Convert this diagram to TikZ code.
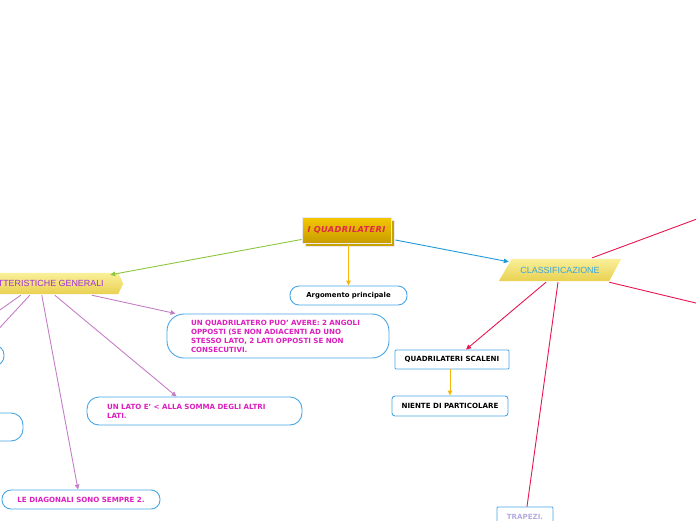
\documentclass[tikz,border=0pt]{standalone}
\usepackage{fontspec}
\setmainfont{DejaVu Sans}
\newfontfamily\arialf{Liberation Sans}
\usetikzlibrary{arrows.meta,backgrounds,shadows}
\definecolor{goldtop}{HTML}{F4C800}
\definecolor{goldbot}{HTML}{C89C00}
\definecolor{goldsh}{HTML}{C8A400}
\definecolor{framec}{HTML}{ECE8F2}
\definecolor{titlered}{HTML}{E0284A}
\definecolor{ylwtop}{HTML}{FAF09A}
\definecolor{ylwbot}{HTML}{E8D050}
\definecolor{cgtext}{HTML}{A030E0}
\definecolor{cltext}{HTML}{38A6DE}
\definecolor{boxblue}{HTML}{48A6E6}
\definecolor{magtext}{HTML}{DD1FBF}
\definecolor{lgreen}{HTML}{8CC63F}
\definecolor{lorange}{HTML}{F5B50A}
\definecolor{lblue}{HTML}{1E9AD6}
\definecolor{lpurple}{HTML}{C47EC8}
\definecolor{lcrimson}{HTML}{E8154F}
\definecolor{trtext}{HTML}{B4AEE0}
\begin{document}
\begin{tikzpicture}[x=1pt,y=-1pt,
  tip/.style={-{Triangle[length=5pt,width=4.5pt]}},
  conn/.style={line width=0.9pt},
  title/.style={minimum width=89pt, minimum height=26pt, inner sep=0pt,
    top color=goldtop, bottom color=goldbot, draw=framec, line width=0.9pt,
    font=\bfseries\itshape\fontsize{8.2}{9}\addfontfeatures{LetterSpace=5}, text=titlered,
    drop shadow={shadow xshift=3pt, shadow yshift=-3pt, fill=goldsh, draw=framec, opacity=1}},
  ylabel/.style={inner sep=0pt, font=\arialf\fontsize{8.9}{10}\selectfont},
  bubble/.style={draw=boxblue, line width=0.9pt, fill=white, inner ysep=0pt,
    font=\bfseries\fontsize{7.1}{9}\selectfont, text=magtext},
  blackbox/.style={draw=boxblue, line width=0.9pt, fill=white, inner sep=0pt,
    font=\bfseries\fontsize{7.1}{9}\selectfont, text=black}
]
\useasboundingbox (0,0) rectangle (696,520);
\clip (0,0) rectangle (696,520);

% central topic
\node[title] (qc) at (346.5,230) {I QUADRILATERI};

% main branches
\node[ylabel, text=cgtext, minimum width=168.5pt, minimum height=21pt] (cg) at (38.75,283.5) {CARATTERISTICHE GENERALI};
\node[ylabel, text=cltext, minimum width=122pt, minimum height=22pt] (cl) at (560,270) {CLASSIFICAZIONE};
\begin{scope}[on background layer]
  \shade[top color=ylwtop, bottom color=ylwbot]
    (cg.north west) -- ([xshift=-5pt]cg.north east) -- (cg.east)
    -- ([xshift=-5pt]cg.south east) -- (cg.south west) -- cycle;
  \shade[top color=ylwtop, bottom color=ylwbot]
    ([xshift=13pt]cl.north west) -- (cl.north east)
    -- ([xshift=-12pt]cl.south east) -- (cl.south west) -- cycle;
\end{scope}

\node[blackbox, rounded corners=9pt, minimum width=117pt, minimum height=19pt] (arg) at (348.5,295.5) {\fontsize{6.9}{9}\selectfont Argomento principale};

% children of caratteristiche generali
\node[bubble, rounded corners=17pt, align=left, text width=174pt, inner xsep=24pt, minimum height=44pt] (b1) at (278,336)
  {UN QUADRILATERO PUO' AVERE: 2 ANGOLI\\OPPOSTI (SE NON ADIACENTI AD UNO\\STESSO LATO, 2 LATI OPPOSTI SE NON\\CONSECUTIVI.};
\node[bubble, rounded corners=12pt, align=left, text width=175pt, inner xsep=20pt, minimum height=28pt] (b2) at (194.5,411)
  {UN LATO E' < ALLA SOMMA DEGLI ALTRI\\LATI.};
\node[bubble, rounded corners=9pt, minimum width=158pt, minimum height=19pt] (b3) at (81,499.5)
  {LE DIAGONALI SONO SEMPRE 2.};
\node[bubble, rounded corners=10pt, minimum width=124pt, minimum height=21pt] (ba) at (-58,355.5) {};
\node[bubble, rounded corners=12pt, minimum width=203pt, minimum height=28pt] (bb) at (-78.5,427) {};

% children of classificazione
\node[blackbox, rounded corners=1pt, minimum width=114pt, minimum height=19pt] (qs) at (452,359.5) {QUADRILATERI SCALENI};
\node[blackbox, rounded corners=3pt, minimum width=116pt, minimum height=20pt] (np) at (450,406) {NIENTE DI PARTICOLARE};
\node[blackbox, rounded corners=1pt, minimum width=56pt, minimum height=20pt, text=trtext] (tr) at (525,517) {TRAPEZI.};
\coordinate (ur) at (740,203);
\coordinate (lr) at (740,313.6);

% connectors
\draw[conn, tip, lgreen] ([yshift=4pt]qc.south west) -- ([xshift=-13pt,yshift=-2pt]cg.north east);
\draw[conn, tip, lorange] ([yshift=-2pt]qc.south -| arg.north) -- (arg.north);
\draw[conn, tip, lblue] ([xshift=4pt,yshift=-10pt]qc.east) -- ([xshift=10pt,yshift=-3pt]cl.north west);

\draw[conn, tip, lpurple] ([xshift=137.5pt,yshift=-1pt]cg.south west) -- ([xshift=9pt]b1.north west);
\draw[conn, tip, lpurple] ([xshift=100.5pt,yshift=-1pt]cg.south west) -- ([xshift=90pt]b2.north west);
\draw[conn, tip, lpurple] ([xshift=87.5pt,yshift=-1pt]cg.south west) -- ([xshift=-3pt]b3.north);
\draw[conn, tip, lpurple] ([xshift=75.5pt,yshift=-1pt]cg.south west) -- (bb.north);
\draw[conn, tip, lpurple] ([xshift=66.5pt,yshift=-1pt]cg.south west) -- ([xshift=9pt]ba.north);

\draw[conn, lcrimson] ([xshift=-29pt,yshift=1pt]cl.north east) -- (ur);
\draw[conn, lcrimson] ([xshift=-12pt,yshift=-1pt]cl.south east) -- (lr);
\draw[conn, tip, lcrimson] ([xshift=-14pt,yshift=-1pt]cl.south) -- ([xshift=14pt]qs.north);
\draw[conn, lcrimson] ([xshift=-2pt,yshift=-1pt]cl.south) -- ([xshift=2pt]tr.north);
\draw[conn, tip, lorange] (qs.south -| np.north) -- (np.north);
\end{tikzpicture}
\end{document}
